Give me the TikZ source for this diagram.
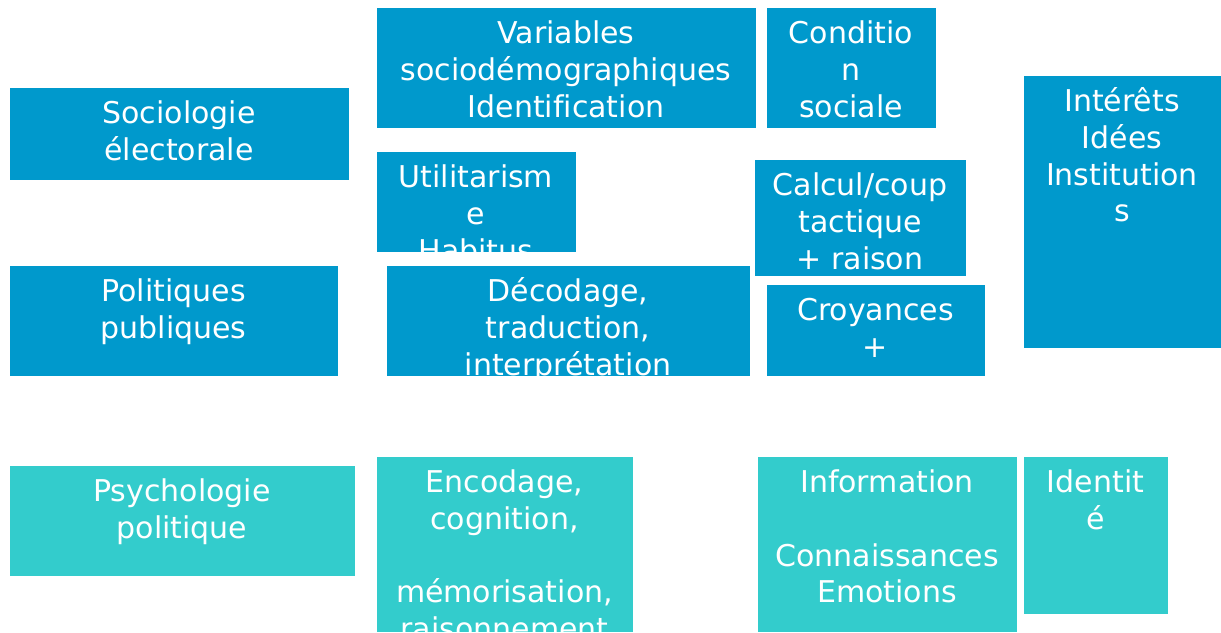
\documentclass[tikz,border=0pt]{standalone}
\usepackage{fontspec}
\setmainfont{DejaVu Sans}[Ligatures=NoCommon]
\definecolor{tileblue}{RGB}{0,153,204}
\definecolor{tileteal}{RGB}{51,204,204}
\tikzset{
  tilelabel/.style={font=\fontsize{30}{36.7}\selectfont, text=white, align=center,
    inner sep=0pt, anchor=north},
  tilebox/.style={draw=white, line width=0.8pt, inner sep=0pt}
}
% \tile{name}{x1}{y1}{x2}{y2}{colour}{text}: a filled tile whose text is cut at its edges
\newcommand\tile[7]{%
  \begin{scope}
    \clip (#2,#3) rectangle (#4,#5);
    \node[tilebox, fill=#6, minimum width={#4-#2}, minimum height={#5-#3}]
      (#1) at ({(#2+#4)/2},{(#3+#5)/2}) {};
    \node[tilelabel] (#1-text) at ({(#2+#4)/2},{#3+8.5}) {\rule{0pt}{28pt}#7};
  \end{scope}}
\begin{document}
\begin{tikzpicture}[x=1pt,y=-1pt]
  \useasboundingbox (0,0) rectangle (1221,632);
  % left column: disciplines
  \tile{socio}{9}{87}{349}{180}{tileblue}{Sociologie\\électorale}
  \tile{polpub}{9}{265}{338}{376}{tileblue}{Politiques\\publiques}
  \tile{psycho}{9}{465}{355}{576}{tileteal}{Psychologie\\politique}
  % sociology row
  \tile{vars}{376}{7}{756}{128}{tileblue}{Variables\\sociodémographiques\\Identification}
  \tile{cond}{766}{7}{936}{128}{tileblue}{Conditio\\n\\sociale}
  \tile{util}{376}{151}{576}{252}{tileblue}{Utilitarism\\e\\Habitus}
  \tile{calc}{754}{159}{966}{276}{tileblue}{Calcul/coup\\tactique\\+ raison}
  \tile{inter}{1023}{75}{1221}{348}{tileblue}{Intérêts\\Idées\\Institution\\s}
  % public policy row
  \tile{decod}{386}{265}{750}{376}{tileblue}{Décodage,\\traduction,\\interprétation}
  \tile{croy}{766}{284}{985}{376}{tileblue}{Croyances\\+}
  % political psychology row
  \tile{encod}{376}{456}{633}{632}{tileteal}{Encodage,\\cognition,\\\mbox{}\\mémorisation,\\raisonnement}
  \tile{info}{757}{456}{1017}{632}{tileteal}{Information\\\mbox{}\\Connaissances\\Emotions}
  \tile{ident}{1023}{456}{1168}{614}{tileteal}{Identit\\é}
\end{tikzpicture}
\end{document}
